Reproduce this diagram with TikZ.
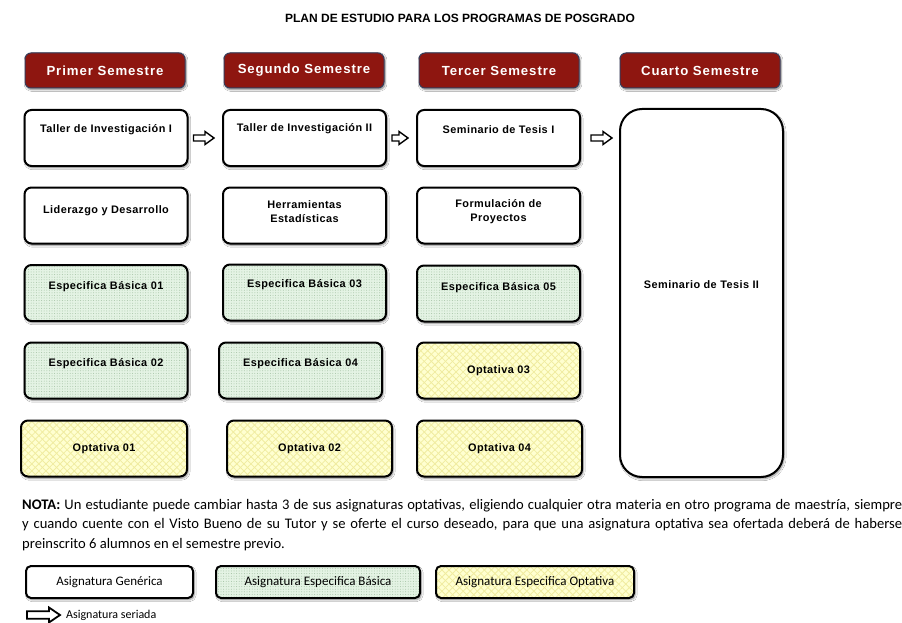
\documentclass[tikz,border=0pt]{standalone}
\usepackage{fontspec}
\setmainfont{Carlito}
\newfontfamily\boxfont[LetterSpace=4]{Liberation Sans}
\newfontfamily\hdrfont[LetterSpace=7]{Liberation Sans}
\newfontfamily\ttlfont{Liberation Sans}
\usetikzlibrary{shadows,shadows.blur,patterns.meta,calc,arrows.meta}
\definecolor{hdrred}{RGB}{142,22,16}
\definecolor{hdrline}{RGB}{55,60,90}
\definecolor{grfill}{RGB}{228,243,228}
\definecolor{grdot}{RGB}{165,195,165}
\definecolor{yefill}{RGB}{255,255,208}
\definecolor{yeline}{RGB}{240,236,160}
% hollow block arrow between two points: #1 start, #2 end, #3 half shaft, #4 half head, #5 head length
\newcommand\blkarrow[5]{%
  \draw[blk] let \p1=(#1), \p2=(#2) in
    (\x1,\y1+#3) -- (\x2-#5,\y1+#3) -- (\x2-#5,\y1+#4) -- (\x2,\y1)
    -- (\x2-#5,\y1-#4) -- (\x2-#5,\y1-#3) -- (\x1,\y1-#3) -- cycle;}
\begin{document}
\begin{tikzpicture}[x=1pt,y=-1pt,
  bbox/.style={draw=black, line width=2pt, rounded corners=7pt,
    blur shadow={shadow xshift=1.2pt, shadow yshift=-1.8pt, shadow opacity=45, shadow blur steps=6},
    minimum width=163pt, minimum height=56pt, inner sep=0pt},
  box/.style={bbox, fill=white},
  gbox/.style={bbox, preaction={fill=grfill},
    preaction={pattern={Dots[distance=2.6pt, radius=0.5pt]}, pattern color=grdot}},
  ybox/.style={bbox, preaction={fill=yefill},
    preaction={pattern={Lines[angle=45, distance=5pt, line width=0.8pt]}, pattern color=yeline},
    preaction={pattern={Lines[angle=-45, distance=5pt, line width=0.8pt]}, pattern color=yeline}},
  hdr/.style={draw=hdrline, line width=1pt, rounded corners=6pt, fill=hdrred,
    blur shadow={shadow xshift=1pt, shadow yshift=-1.5pt, shadow opacity=50, shadow blur steps=6},
    minimum width=160pt, minimum height=35pt, inner sep=0pt, text=white,
    font=\hdrfont\bfseries\fontsize{13.2}{15}\selectfont},
  lbl/.style={font=\boxfont\bfseries\fontsize{10.9}{14.5}\selectfont, align=center, inner sep=0pt},
  leg/.style={font=\fontsize{13}{15}\selectfont},
  blk/.style={draw=black, fill=white, line width=1.4pt, line join=miter},
]
\fill[white] (0,0) rectangle (902,623);
\useasboundingbox (0,0) rectangle (902,623);

\node[font=\ttlfont\bfseries\fontsize{12}{14}\selectfont] (title) at (460,18) {PLAN DE ESTUDIO PARA LOS PROGRAMAS DE POSGRADO};

% headers
\node[hdr] (h1) at (105,70.5) {Primer Semestre};
\node[hdr] (h2) at (304,70.5) {Segundo Semestre};
\node[hdr] (h3) at (499,70.5) {Tercer Semestre};
\node[hdr] (h4) at (700,70.5) {Cuarto Semestre};

% row 1
\node[box] (a1) at (106,138) {};
\node[box] (b1) at (304.5,138) {};
\node[box] (c1) at (498.5,138) {};
\node[box, minimum height=368pt, rounded corners=22pt] (d1) at (701.5,293) {};
\node[lbl] at ([yshift=8pt]a1.center) {Taller de Investigación I};
\node[lbl] at ([yshift=9pt]b1.center) {Taller de Investigación II};
\node[lbl] at ([yshift=8pt]c1.center) {Seminario de Tesis I};
\node[lbl] at (701.5,285) {Seminario de Tesis II};

% row 2
\node[box] (a2) at (106,215.5) {};
\node[box] (b2) at (304.5,215.5) {};
\node[box] (c2) at (498.5,215.5) {};
\node[lbl] at ([yshift=5pt]a2.center) {Liderazgo y Desarrollo};
\node[lbl] at ([yshift=4pt]b2.center) {Herramientas\\Estadísticas};
\node[lbl] at ([yshift=4pt]c2.center) {Formulación de\\Proyectos};

% row 3
\node[gbox] (a3) at (106,293) {};
\node[gbox] (b3) at (304.5,292.5) {};
\node[gbox] (c3) at (498.5,293.5) {};
\node[lbl] at ([yshift=6pt]a3.center) {Especifica Básica 01};
\node[lbl] at ([yshift=8pt]b3.center) {Especifica Básica 03};
\node[lbl] at ([yshift=6pt]c3.center) {Especifica Básica 05};

% row 4
\node[gbox] (a4) at (106,370.5) {};
\node[gbox] (b4) at (300.5,370.5) {};
\node[ybox] (c4) at (498.5,370.5) {};
\node[lbl] at ([yshift=7pt]a4.center) {Especifica Básica 02};
\node[lbl] at ([yshift=7pt]b4.center) {Especifica Básica 04};
\node[lbl] at (c4.center) {Optativa 03};

% row 5
\node[ybox, minimum width=166pt] (a5) at (104,448.5) {};
\node[ybox, minimum width=165pt] (b5) at (309.5,448.5) {};
\node[ybox, minimum width=165pt] (c5) at (499.5,448.5) {};
\node[lbl] at (a5.center) {Optativa 01};
\node[lbl] at (b5.center) {Optativa 02};
\node[lbl] at (c5.center) {Optativa 04};

% serial arrows
\blkarrow{[xshift=5pt]a1.east}{[xshift=-8pt]b1.west}{3pt}{6.5pt}{9pt}
\blkarrow{[xshift=5pt]b1.east}{[xshift=-8pt]c1.west}{3pt}{6.5pt}{9pt}
\blkarrow{[xshift=10pt]c1.east}{[xshift=-7pt]c1.east -| d1.west}{3pt}{6.5pt}{9pt}

% note
\node[anchor=north west, inner sep=0pt, align=left, font=\fontsize{14.6}{19.5}\selectfont] (nota) at (22,499)
{\makebox[880pt][s]{\textbf{NOTA:} Un estudiante puede cambiar hasta 3 de sus asignaturas optativas, eligiendo cualquier otra materia en otro programa de maestría, siempre}\\
\makebox[880pt][s]{y cuando cuente con el Visto Bueno de su Tutor y se oferte el curso deseado, para que una asignatura optativa sea ofertada deberá de haberse}\\
preinscrito 6 alumnos en el semestre previo.};

% legend
\node[box, minimum width=167pt, minimum height=32pt, rounded corners=5pt, leg] (l1) at (109.5,582) {Asignatura Genérica};
\node[gbox, minimum width=204pt, minimum height=32pt, rounded corners=5pt, leg] (l2) at (318,582) {Asignatura Especifica Básica};
\node[ybox, minimum width=198pt, minimum height=32pt, rounded corners=5pt, leg] (l3) at (535,582) {Asignatura Especifica Optativa};
\coordinate (s0) at (27,615);
\node[anchor=west, inner sep=0pt, font=\fontsize{12}{14}\selectfont] (s1) at (66,615) {Asignatura seriada};
\begin{scope}[blk/.append style={line width=1.8pt}]
\blkarrow{s0}{[xshift=-6pt]s1.west}{3.8pt}{7.5pt}{11pt}
\end{scope}
\end{tikzpicture}
\end{document}
